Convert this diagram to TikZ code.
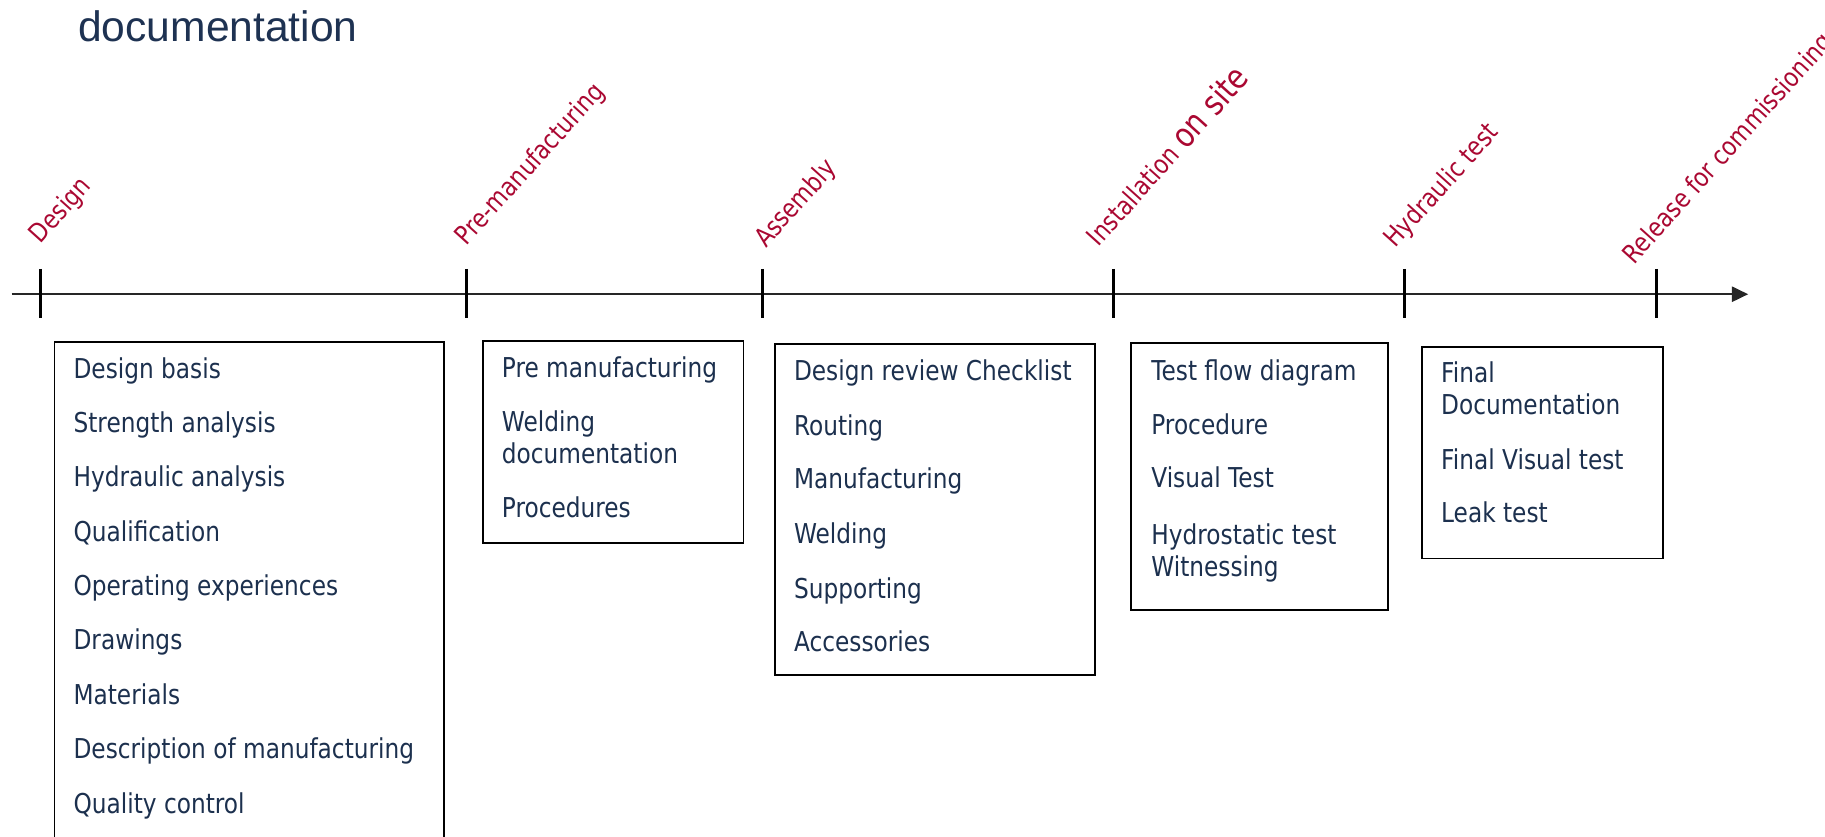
\documentclass[tikz,border=0pt]{standalone}
\usepackage{fontspec}
\setmainfont{DejaVu Sans}[FakeStretch=0.85]
\newfontfamily\titlefont{Liberation Sans}
\usetikzlibrary{arrows.meta}
\definecolor{navy}{RGB}{28,48,78}
\definecolor{titlecol}{RGB}{30,50,82}
\definecolor{milestone}{RGB}{170,8,50}
\tikzset{
  x=1pt, y=-1pt,
  boxframe/.style={draw=black, line width=1.6pt, inner sep=0pt},
  item/.style={anchor=base west, inner sep=0pt, text=navy, font=\fontsize{23.5}{27.5}\selectfont, align=left},
  lab/.style={anchor=base west, inner sep=0pt, rotate=48, text=milestone, font=\fontsize{22.5}{26}\selectfont},
  tickline/.style={draw=black, line width=2.6pt},
  axisline/.style={draw=black!85, line width=2pt, -{Triangle[length=14pt,width=13pt]}},
}
\begin{document}
\begin{tikzpicture}
\useasboundingbox (0,0) rectangle (1568,719);
\clip (0,0) rectangle (1568,719);
% title
\node[anchor=base west, inner sep=0pt, text=titlecol, font=\titlefont\fontsize{36.6}{40}\selectfont] (title) at (67,36) {documentation};
% axis
\coordinate (axs) at (10,252.8);
\coordinate (axe) at (1502,252.8);
\draw[axisline] (axs) -- (axe);
% ticks
\foreach \n/\x in {1/35,2/401,3/655,4/957,5/1207,6/1423}{
  \coordinate (t\n a) at (\x,231);
  \coordinate (t\n b) at (\x,273);
  \draw[tickline] (t\n a) -- (t\n b);
}
% milestone labels
\node[lab] (l1) at (35,210) {Design};
\node[lab] (l2) at (401,212) {Pre-manufacturing};
\node[lab] (l3) at (658,214) {Assembly};
\node[lab] (l4) at (944,213) {Installation {\fontsize{29}{32}\selectfont on site}};
\node[lab] (l5) at (1199,214) {Hydraulic test};
\node[lab] (l6) at (1404,228) {Release for commissioning};
% boxes
\node[boxframe, minimum width=335pt, minimum height=480pt, anchor=north west] (b1) at (46,293) {};
\node[boxframe, minimum width=224pt, minimum height=174pt, anchor=north west] (b2) at (414,292) {};
\node[boxframe, minimum width=275pt, minimum height=284pt, anchor=north west] (b3) at (665,295) {};
\node[boxframe, minimum width=221pt, minimum height=229pt, anchor=north west] (b4) at (971,294) {};
\node[boxframe, minimum width=207pt, minimum height=182pt, anchor=north west] (b5) at (1221,297) {};
% box 1 items
\node[item] (a1) at (63,325) {Design basis};
\node[item] (a2) at (63,372) {Strength analysis};
\node[item] (a3) at (63,418) {Hydraulic analysis};
\node[item] (a4) at (63,465) {Qualification};
\node[item] (a5) at (63,512) {Operating experiences};
\node[item] (a6) at (63,558) {Drawings};
\node[item] (a7) at (63,605) {Materials};
\node[item] (a8) at (63,652) {Description of manufacturing};
\node[item] (a9) at (63,699) {Quality control};
% box 2 items (two-line nodes are placed by the baseline of their last line)
\node[item] (c1) at (431,324) {Pre manufacturing};
\node[item] (c2) at (431,398) {Welding\\documentation};
\node[item] (c3) at (431,445) {Procedures};
% box 3 items
\node[item] (d1) at (682,327) {Design review Checklist};
\node[item] (d2) at (682,374) {Routing};
\node[item] (d3) at (682,420) {Manufacturing};
\node[item] (d4) at (682,467) {Welding};
\node[item] (d5) at (682,514) {Supporting};
\node[item] (d6) at (682,560) {Accessories};
% box 4 items
\node[item] (e1) at (989,327) {Test flow diagram};
\node[item] (e2) at (989,373) {Procedure};
\node[item] (e3) at (989,419) {Visual Test};
\node[item] (e4) at (989,495) {Hydrostatic test\\Witnessing};
% box 5 items
\node[item] (f1) at (1238,356) {Final\\Documentation};
\node[item] (f2) at (1238,403) {Final Visual test};
\node[item] (f3) at (1238,449) {Leak test};
\end{tikzpicture}
\end{document}
